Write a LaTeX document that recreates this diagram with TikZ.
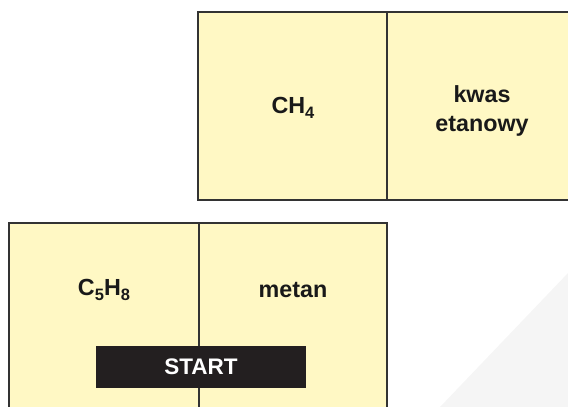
\documentclass[tikz,border=0pt]{standalone}
\usepackage{fontspec}
\setmainfont{Liberation Sans}
\definecolor{cellfill}{HTML}{FFF8C4}
\definecolor{cellline}{HTML}{333333}
\definecolor{startbg}{HTML}{231F20}
\definecolor{trigray}{HTML}{F5F5F5}
\newcommand{\subx}[1]{\raisebox{-4.5pt}{\fontsize{16.5}{16.5}\selectfont #1}}
\begin{document}
\begin{tikzpicture}[x=1pt,y=-1pt,
  cell/.style={draw=cellline,line width=1.3pt,fill=cellfill},
  lbl/.style={font=\fontsize{23.3}{28.5}\selectfont\bfseries,align=center,inner sep=0pt,text=black!90},
  startbox/.style={fill=startbg,text=white,font=\fontsize{22.5}{27}\selectfont\bfseries,minimum width=210pt,minimum height=42pt,inner sep=0pt}]
\useasboundingbox (0,0) rectangle (568,407);
\clip (0,0) rectangle (568,407);
\fill[trigray] (440,407) -- (568,273) -- (568,407) -- cycle;
% top pair
\draw[cell] (198,12) rectangle (387,200);
\draw[cell] (387,12) rectangle (580,200);
% bottom pair
\draw[cell] (9,223) rectangle (199,420);
\draw[cell] (199,223) rectangle (387,420);
\node[lbl] (ch4) at (293,108) {CH\subx{4}};
\node[lbl] (kwas) at (482,111) {kwas\\etanowy};
\node[lbl] (c5h8) at (104,290) {C\subx{5}H\subx{8}};
\node[lbl] (metan) at (293,290) {metan};
\node[startbox] (start) at (201,367) {START};
\end{tikzpicture}
\end{document}
